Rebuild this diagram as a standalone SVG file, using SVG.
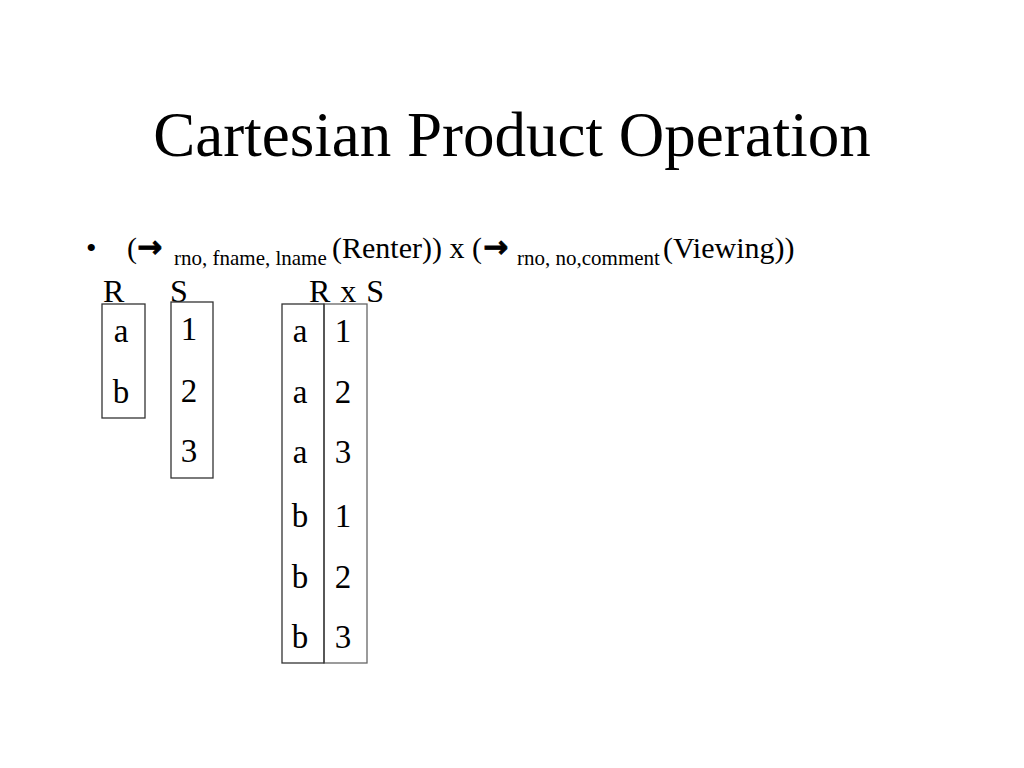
<svg xmlns="http://www.w3.org/2000/svg" width="1024" height="768" viewBox="0 0 1024 768">
<style>
text{font-family:"Liberation Serif","Times New Roman",serif;fill:#000}
.t{font-size:63px}
.m{font-size:30px}
.l{font-size:32px}
.s{font-size:21px}
.ar{font-family:"DejaVu Sans",sans-serif;font-weight:bold;font-size:30px;stroke:#000;stroke-width:0.8}
.c{font-size:33px;text-anchor:middle}
.box{fill:none;stroke:#333;stroke-width:1.3}
.box2{fill:none;stroke:#666;stroke-width:1.3}
</style>
<rect width="1024" height="768" fill="#fff"/>
<text class="t" x="512" y="156" text-anchor="middle">Cartesian Product Operation</text>
<g id="expr">
<text class="m" x="86" y="258">•</text>
<text class="m" x="127" y="258">(</text>
<text class="ar" x="137" y="257">→</text>
<text class="s" x="174" y="265">rno, fname, lname</text>
<text class="m" x="332" y="258">(Renter)) x (</text>
<text class="ar" x="483" y="257">→</text>
<text class="s" x="517" y="265">rno, no,comment</text>
<text class="m" x="663" y="258">(Viewing))</text>
</g>
<g id="labels">
<text class="l" x="103" y="302">R</text>
<text class="l" x="170" y="302">S</text>
<text class="l" x="309" y="302" word-spacing="2">R x S</text>
</g>
<g id="R">
<rect class="box" x="102" y="304" width="43" height="114"/>
<text class="c" x="121" y="342">a</text>
<text class="c" x="121" y="403">b</text>
</g>
<g id="S">
<rect class="box" x="171" y="302" width="42" height="176"/>
<text class="c" x="189" y="340">1</text>
<text class="c" x="189" y="402">2</text>
<text class="c" x="189" y="462">3</text>
</g>
<g id="RxS">
<rect class="box2" x="324" y="304" width="43" height="359"/>
<rect class="box" x="282" y="304" width="42" height="359"/>
<text class="c" x="300" y="342">a</text>
<text class="c" x="300" y="403">a</text>
<text class="c" x="300" y="463">a</text>
<text class="c" x="300" y="527">b</text>
<text class="c" x="300" y="588">b</text>
<text class="c" x="300" y="648">b</text>
<text class="c" x="343" y="342">1</text>
<text class="c" x="343" y="403">2</text>
<text class="c" x="343" y="463">3</text>
<text class="c" x="343" y="527">1</text>
<text class="c" x="343" y="588">2</text>
<text class="c" x="343" y="648">3</text>
</g>
</svg>
